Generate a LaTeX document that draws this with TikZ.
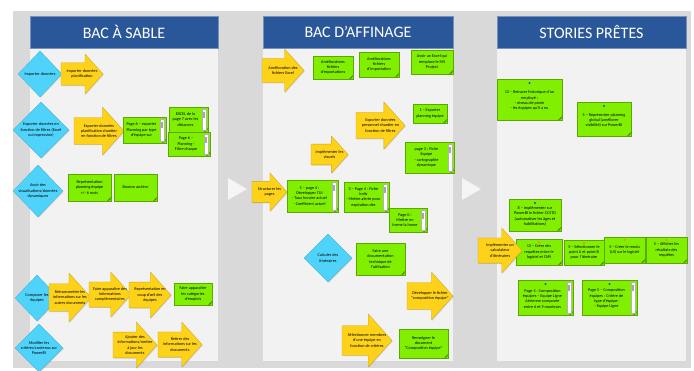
\documentclass[tikz,border=0pt]{standalone}
\usepackage{fontspec}
\setmainfont{Carlito}
\usepackage{xcolor}
\usepackage{tikz}
\usetikzlibrary{shapes.geometric,shadows}

\definecolor{bggray}{HTML}{D9D9D9}
\definecolor{lanegray}{HTML}{F2F2F2}
\definecolor{ttlblue}{HTML}{2A579A}
\definecolor{dcyan}{HTML}{4FD3FA}
\definecolor{ayellow}{HTML}{FFD21A}
\definecolor{sgreen}{HTML}{80F000}
\definecolor{pinblue}{HTML}{1F4FD1}
\definecolor{pinorange}{HTML}{FF7F27}

\tikzset{
  lane/.style   = {fill=lanegray},
  ttl/.style    = {fill=ttlblue, draw=ttlblue!65!white, line width=0.6pt},
  ttltxt/.style = {text=white, font=\fontsize{16}{18}\selectfont, inner sep=0pt},
  shd/.style    = {drop shadow={shadow xshift=0.8pt, shadow yshift=-0.8pt, opacity=0.25}},
  diam/.style   = {diamond, fill=dcyan, draw=dcyan!85!black, line width=0.3pt,
                   inner sep=0pt, shd},
  lbl/.style    = {font=\fontsize{4.2}{5.3}\selectfont, align=center, inner sep=0pt},
  yarr/.style   = {fill=ayellow, draw=ayellow!80!black, line width=0.3pt,
                   line join=round, shd},
  stk/.style    = {fill=sgreen, draw=sgreen!70!black, line width=0.3pt, shd},
  fold/.style   = {fill=sgreen!50!black},
  scrl/.style   = {fill=white, draw=black!30, line width=0.2pt},
  thumb/.style  = {fill=black!35},
  chev/.style   = {fill=white, opacity=0.75}
}

% yellow arrow: name, centre x, centre y, width, height, text
\newcommand\yarrow[6]{%
  \pgfmathsetmacro\arL{#2-#4/2}\pgfmathsetmacro\arR{#2+#4/2}%
  \pgfmathsetmacro\arH{#2+#4/2-0.45*#5}%
  \pgfmathsetmacro\arB{0.28*#5}\pgfmathsetmacro\arT{#5/2}%
  \path[yarr] ({\arL},{#3-\arB}) -- ({\arH},{#3-\arB}) -- ({\arH},{#3-\arT})
     -- ({\arR},{#3}) -- ({\arH},{#3+\arT}) -- ({\arH},{#3+\arB})
     -- ({\arL},{#3+\arB}) -- cycle;
  \node[lbl] (#1) at (#2,#3) {#6};
}
% green note: name, x1, y1, x2, y2, text
\newcommand\sticky[6]{%
  \path[stk] (#2,#3) rectangle (#4,#5);
  \path[fold] ({#4-4},{#5}) -- ({#4},{#5-4}) -- ({#4-1},{#5-1}) -- cycle;
  \node[lbl] (#1) at ({(#2+#4)/2},{(#3+#5)/2}) {#6};
}
% green note with a scroll bar
\newcommand\stickyscr[6]{%
  \path[stk] (#2,#3) rectangle (#4,#5);
  \path[fold] ({#4-4},{#5}) -- ({#4},{#5-4}) -- ({#4-1},{#5-1}) -- cycle;
  \path[scrl] ({#4-6},{#3+2}) rectangle ({#4-2},{#5-2});
  \path[thumb] ({#4-5.3},{#3+5}) rectangle ({#4-2.7},{#3+11});
  \node[lbl] (#1) at ({(#2+#4)/2-3},{(#3+#5)/2}) {#6};
}
\newcommand\pin[3]{\fill[#1] (#2,#3) circle (1.1pt);}

\begin{document}
\begin{tikzpicture}[x=1pt,y=-1pt]
\useasboundingbox (0,0) rectangle (694,370);

% --- background and lanes ---
\fill[bggray] (13,11) rectangle (691,368);
\foreach \n/\xa/\xb/\t in {sable/30/218/BAC À SABLE,
                          affin/263/453/BAC D’AFFINAGE,
                          pret/497/686/STORIES PRÊTES} {
  \fill[lane] (\xa,48) rectangle (\xb,361);
  \path[ttl] (\xa,16) rectangle (\xb,48);
  \node[ttltxt] (ttl-\n) at ({(\xa+\xb)/2},32) {\t};
}

% chevrons between lanes
\fill[chev] (228,178) -- (247,189) -- (228,200) -- cycle;
\fill[chev] (462,178) -- (481,189) -- (462,200) -- cycle;

% --- bac a sable ---
\node[diam, minimum width=44pt, minimum height=46pt] (imp) at (40,74) {};
\node[lbl] (imp-t) at (imp) {Importer données};
\yarrow{impplan}{82}{74}{42}{40}{Importer données\\planification}

\node[diam, minimum width=56pt, minimum height=56pt] (exp) at (41,130) {};
\node[lbl] (exp-t) at (exp) {Exporter données en\\fonction de filtres (Excel\\ou impression)};
\yarrow{expplan}{99}{131}{50}{48}{Exporter données\\planification chantier\\en fonction de filtres}
\stickyscr{p6exp}{123}{117}{166}{143}{Page 6 – exporter\\Planning par type\\d'équipe sur}
\stickyscr{xl7}{169}{107}{208}{132}{EXCEL de la\\page 7 avec les\\distances}
\stickyscr{p6flt}{168}{132}{210}{156}{Page 6 –\\Planning -\\Filtre chaque}

\node[diam, minimum width=50pt, minimum height=52pt] (visu) at (38,191) {};
\node[lbl] (visu-t) at (visu) {Avoir des\\visualisations/données\\dynamiques};
\sticky{repr}{68}{174}{111}{201}{Représentation\\planning équipe\\+/- 6 mois}
\sticky{arch}{114}{174}{157}{201}{Bouton archive}

\node[diam, minimum width=44pt, minimum height=46pt] (comp) at (37,298) {};
\node[lbl] (comp-t) at (comp) {Composer les\\équipes};
\yarrow{retr}{70}{297.5}{42}{49}{Retransmettre les\\informations sur les\\autres documents}
\yarrow{compl}{110}{294.5}{42}{45}{Faire apparaître des\\informations\\complémentaires}
\yarrow{coup}{150}{295}{42}{46}{Représentation en\\coup d'œil des\\équipes}
\sticky{categ}{174}{283}{212}{305}{Faire apparaître\\les catégories\\d'emplois}

\node[diam, minimum width=48pt, minimum height=48pt] (modif) at (39,348) {};
\node[lbl] (modif-t) at (modif) {Modifier les\\critères/contenus sur\\PowerBI};
\yarrow{ajout}{135}{345}{44}{46}{Ajouter des\\informations/mettre\\à jour les\\documents}
\yarrow{retir}{180}{344.5}{44}{45}{Retirer des\\informations sur les\\documents}

% --- bac d'affinage ---
\yarrow{amel}{283}{70.5}{42}{43}{Amélioration des\\fichiers Excel}
\sticky{amexp}{313}{56}{353}{79}{Améliorations\\fichiers\\d'exportations}
\sticky{amimp}{359}{52}{399}{77}{Améliorations\\fichiers\\d'importation}
\sticky{msp}{411}{50}{453}{74}{Avoir un Excel qui\\remplace le MS\\Project}

\yarrow{exppers}{380.5}{125.5}{49}{47}{Exporter données\\personnel chantier en\\fonction de filtres}
\sticky{expeq}{413}{104}{447}{123}{1 – Exporter\\planning équipe}
\yarrow{visuels}{329.5}{154.5}{37}{37}{Implémenter les\\visuels}
\stickyscr{p3}{405}{142}{454}{173}{page 3 : Fiche\\Equipe\\- cartographie\\dynamique}

\yarrow{struct}{269.5}{192}{35}{38}{Structurer les\\pages}
\stickyscr{p4ui}{287}{180}{338}{212}{5 – page 4 :\\Développer l'UI\\- Taux horaire actuel\\- Coefficient actuel}
\stickyscr{p4ind}{344}{182}{389}{212}{3 – Page 4 : Fiche\\indiv\\- Mettre alerte pour\\expiration des}
\stickyscr{p0}{389}{208}{427}{232}{Page 0 :\\Mettre en\\forme la home}

\node[diam, minimum width=48pt, minimum height=48pt] (itin) at (328,258) {};
\node[lbl] (itin-t) at (itin) {Calculer des\\itinéraires};
\sticky{docu}{356}{243}{405}{275}{Faire une\\documentation\\technique de\\l'utilisation}
\yarrow{devcomp}{430}{296}{46}{48}{Développer le fichier\\“composition équipe”}
\yarrow{selmemb}{367}{340.5}{50}{53}{Sélectionner membres\\d'une équipe en\\fonction de critères}
\sticky{rens}{399}{329}{448}{358}{Renseigner le\\document\\“Composition équipe”}

% --- stories pretes ---
\sticky{histo}{497}{79}{562}{120}{\\13 – Retracer historique d'un\\employé :\\- niveau de poste\\- les équipes qu'il a eu}
\pin{pinblue}{529.5}{83}
\sticky{glob}{577}{102}{631}{136}{\\5 – Représenter planning\\global (améliorer\\visibilité) sur PowerBI}
\pin{pinblue}{604}{106}
\sticky{ccstd}{509}{199}{561}{231}{\\8 – Implémenter sur\\PowerBI le fichier CCSTD\\(automatiser les âges et\\habilitations)}
\pin{pinblue}{535}{203}

\sticky{req}{516}{239}{562}{265}{13 – Créer des\\requêtes entre le\\logiciel et l'API}
\pin{pinorange}{539}{242}
\sticky{ptab}{564}{240}{604}{265}{5 – Sélectionner le\\point A et point B\\pour l'itinéraire}
\pin{pinorange}{584}{243}
\sticky{rendu}{604}{237}{645}{263}{5 – Créer le rendu\\(UI) sur le logiciel}
\pin{pinorange}{624.5}{240}
\sticky{affres}{646}{237}{687}{263}{5 – Afficher les\\résultats des\\requêtes}
\pin{pinorange}{666.5}{240}
\yarrow{calc}{500}{250.5}{44}{45}{Implémenter un\\calculateur\\d'itinéraires}

\stickyscr{p5a}{518}{280}{573}{315}{\\Page 5 : Composition\\équipes – Equipe Ligne\\Aérienne composée\\entre 6 et 9 monteurs}
\pin{pinblue}{545.5}{284}
\stickyscr{p5b}{582}{280}{637}{315}{\\Page 5 – Composition\\équipes : Critère de\\type d'équipe:\\- Equipe Ligne}
\pin{pinblue}{609.5}{284}

\end{tikzpicture}
\end{document}
